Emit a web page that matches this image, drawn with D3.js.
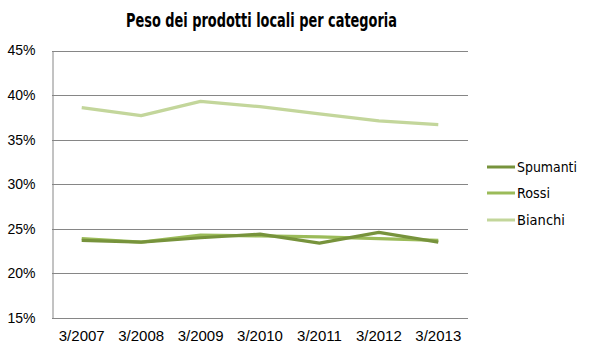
<!DOCTYPE html>
<html><head><meta charset="utf-8">
<script src="https://cdn.jsdelivr.net/npm/d3@7"></script>
<style>body{margin:0;background:#fff}svg{display:block}</style>
</head><body>
<svg id="c" width="591" height="354"></svg>
<script>
const categories = ["3/2007","3/2008","3/2009","3/2010","3/2011","3/2012","3/2013"];
const seriesNames = ["Spumanti","Rossi","Bianchi"];
const spumanti = [23.7, 23.5, 24.0, 24.4, 23.4, 24.6, 23.5];
const rossi    = [23.9, 23.5, 24.3, 24.2, 24.1, 23.9, 23.7];
const bianchi  = [38.6, 37.7, 39.3, 38.7, 37.9, 37.1, 36.7];
const yTicks = [15, 20, 25, 30, 35, 40, 45];
const colors = ["#77933c", "#9bbb59", "#c3d69b"];
const legendWidths = [60, 33, 48];

const svg = d3.select("#c");
const L = 52, R = 468, T = 50.5, B = 318;
const x = d3.scaleBand().domain(categories).range([L, R]);
const y = d3.scaleLinear().domain([15, 45]).range([B, T]);

svg.append("text").attr("x", 126).attr("y", 27)
  .attr("font-family", "'DejaVu Sans Condensed', 'DejaVu Sans', sans-serif")
  .attr("font-weight", "bold").attr("font-size", 19).attr("fill", "#000")
  .attr("textLength", 271).attr("lengthAdjust", "spacingAndGlyphs")
  .text("Peso dei prodotti locali per categoria");

// gridlines
svg.append("g").selectAll("line").data(yTicks.filter(d => d > 15)).join("line")
  .attr("x1", L).attr("x2", R).attr("y1", d => Math.round(y(d)) + 0.5).attr("y2", d => Math.round(y(d)) + 0.5)
  .attr("stroke", "#868686").attr("stroke-width", 1);

// y axis
const ya = svg.append("g").attr("transform", `translate(${L + 0.5},0)`)
  .call(d3.axisLeft(y).tickValues(yTicks).tickFormat(d => d + "%").tickSize(0).tickPadding(17));
ya.select(".domain").attr("stroke", "#868686");
ya.selectAll("text").attr("font-family", "'Liberation Sans', Arial, sans-serif").attr("font-size", 14).attr("fill", "#000");

// x axis
const xa = svg.append("g").attr("transform", `translate(0,${Math.round(B) + 0.5})`)
  .call(d3.axisBottom(x).tickSize(0).tickPadding(12));
xa.select(".domain").attr("stroke", "#868686").attr("d", `M${L},0H${R}`);
xa.selectAll("text").attr("font-family", "'Liberation Sans', Arial, sans-serif").attr("font-size", 15).attr("fill", "#000");

const data = [spumanti, rossi, bianchi];
const line = d3.line().x((d, i) => x(categories[i]) + x.bandwidth() / 2).y(d => y(d));
[2, 1, 0].forEach(k => {
  svg.append("path").datum(data[k]).attr("d", line).attr("fill", "none")
    .attr("stroke", colors[k]).attr("stroke-width", 3.25).attr("stroke-linejoin", "round");
});

// legend
const ly = [167, 193, 220];
seriesNames.forEach((n, k) => {
  svg.append("line").attr("x1", 487).attr("x2", 515).attr("y1", ly[k]).attr("y2", ly[k])
    .attr("stroke", colors[k]).attr("stroke-width", 3);
  svg.append("text").attr("x", 517).attr("y", ly[k] + 5)
    .attr("font-family", "'DejaVu Sans Condensed', 'DejaVu Sans', sans-serif")
    .attr("font-size", 14).attr("fill", "#000")
    .attr("textLength", legendWidths[k]).attr("lengthAdjust", "spacingAndGlyphs").text(n);
});
</script>
</body></html>
